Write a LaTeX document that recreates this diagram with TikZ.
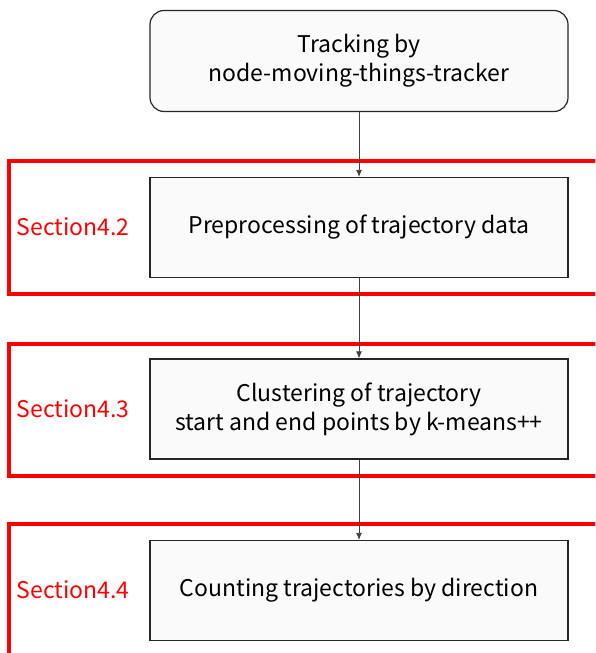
\documentclass[tikz,border=0pt]{standalone}
\usepackage{fontspec}
\setmainfont{Noto Sans CJK JP}
\usetikzlibrary{arrows.meta}
\tikzset{
  stepbox/.style={draw=black!85,line width=1.2pt,fill=black!2,minimum width=418pt,minimum height=100pt,align=center,font=\fontsize{23}{29}\selectfont,inner sep=0pt},
  seclabel/.style={text=red,font=\fontsize{23}{29}\selectfont,inner sep=0pt},
  secframe/.style={red,line width=4pt},
  flow/.style={draw=black!75,line width=0.8pt,-{Latex[length=7pt,width=6pt]}}
}
\begin{document}
\begin{tikzpicture}[x=1pt,y=-1pt]
            \useasboundingbox (0,0) rectangle (595,653);
            \clip (0,0) rectangle (595,653);
            \draw[secframe] (600,161) -- (8.5,161) -- (8.5,293.5) -- (600,293.5);
            \draw[secframe] (600,344) -- (8.5,344) -- (8.5,475.5) -- (600,475.5);
            \draw[secframe] (600,524) -- (8.5,524) -- (8.5,660);
            \node[stepbox,rounded corners=14pt,minimum height=101pt] (track) at (359,61) {Tracking by\\node-moving-things-tracker};
            \node[stepbox] (prep) at (359,227.5) {Preprocessing of trajectory data};
            \node[stepbox] (clust) at (359,409) {Clustering of trajectory\\start and end points by k-means++};
            \node[stepbox] (count) at (359,590.5) {Counting trajectories by direction};
            \node[seclabel] (sec2) at (73,227) {Section4.2};
            \node[seclabel] (sec3) at (73,409) {Section4.3};
            \node[seclabel] (sec4) at (73,590) {Section4.4};
            \draw[flow] (track) -- (prep);
            \draw[flow] (prep) -- (clust);
            \draw[flow] (clust) -- (count);
        \end{tikzpicture}
\end{document}
